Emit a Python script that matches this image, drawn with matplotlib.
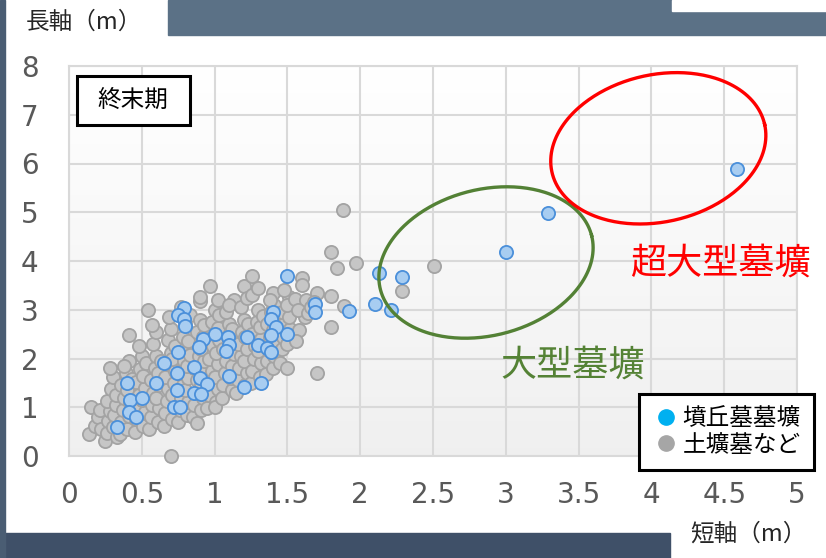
import numpy as np
import matplotlib
matplotlib.use('Agg')
from matplotlib import pyplot as plt
from matplotlib.patches import Rectangle
from matplotlib.lines import Line2D

plt.rcParams['font.family'] = ['Noto Sans CJK JP', 'DejaVu Sans']

# 墳丘墓墓壙 (短軸, 長軸)
blue_x = [4.59, 3.29, 3.00, 2.13, 2.29, 2.10, 2.21, 1.92, 1.69, 1.69, 1.50, 1.50,
          0.79, 0.75, 0.79, 0.80, 1.40, 1.39, 1.42, 1.39, 0.92, 1.00, 0.89, 1.09,
          1.10, 1.08, 1.22, 1.30, 1.36, 1.39, 0.75, 0.65, 0.86, 0.74, 0.90, 0.95,
          1.10, 0.40, 0.60, 0.74, 0.86, 0.91, 1.20, 1.32, 0.42, 0.50, 0.41, 0.46,
          0.72, 0.76, 0.33]
blue_y = [5.89, 4.98, 4.18, 3.76, 3.67, 3.11, 3.00, 2.97, 3.12, 2.95, 3.69, 2.50,
          3.03, 2.89, 2.81, 2.67, 2.96, 2.81, 2.65, 2.48, 2.41, 2.50, 2.24, 2.45,
          2.28, 2.16, 2.45, 2.28, 2.21, 2.14, 2.14, 1.90, 1.82, 1.70, 1.61, 1.48,
          1.64, 1.50, 1.50, 1.35, 1.29, 1.27, 1.42, 1.49, 1.15, 1.20, 0.91, 0.79,
          1.00, 1.00, 0.60]

# 土壙墓など
gray_x = [0.14, 0.15, 0.18, 0.20, 0.22, 0.21,
          0.25, 0.26, 0.27, 0.28, 0.26, 0.29, 0.30, 0.31, 0.30, 0.32, 0.28, 0.33, 0.32,
          0.35, 0.36, 0.37, 0.38, 0.36, 0.39, 0.40, 0.41, 0.42, 0.40, 0.41, 0.41, 0.43, 0.38,
          0.45, 0.46, 0.47, 0.48, 0.46, 0.49, 0.50, 0.51, 0.52, 0.50, 0.52, 0.51, 0.48, 0.53,
          0.55, 0.56, 0.57, 0.58, 0.56, 0.59, 0.60, 0.58, 0.54, 0.61, 0.62, 0.60, 0.62, 0.61, 0.63, 0.60, 0.57,
          0.65, 0.66, 0.67, 0.68, 0.66, 0.69, 0.70, 0.68, 0.70, 0.70, 0.71, 0.72, 0.71, 0.72, 0.73, 0.71, 0.73, 0.69,
          0.75, 0.76, 0.77, 0.78, 0.76, 0.79, 0.80, 0.78, 0.80, 0.81, 0.82, 0.80, 0.82, 0.81, 0.83, 0.82, 0.77, 0.83,
          0.85, 0.86, 0.87, 0.88, 0.86, 0.89, 0.90, 0.88, 0.90, 0.90, 0.90, 0.91, 0.92, 0.91, 0.92, 0.93, 0.91, 0.92, 0.93, 0.88,
          0.95, 0.96, 0.97, 0.98, 0.96, 0.99, 1.00, 0.98, 1.00, 0.97, 1.01, 1.02, 1.00, 1.02, 1.01, 1.03, 1.02, 1.03, 1.00, 1.02,
          1.05, 1.06, 1.07, 1.08, 1.06, 1.09, 1.10, 1.08, 1.12, 1.11, 1.12, 1.13, 1.11, 1.12, 1.13, 1.10,
          1.15, 1.16, 1.17, 1.18, 1.16, 1.19, 1.20, 1.18, 1.20, 1.21, 1.22, 1.20, 1.22, 1.21, 1.23, 1.22,
          1.25, 1.26, 1.27, 1.28, 1.26, 1.29, 1.30, 1.26, 1.26, 1.31, 1.32, 1.30, 1.32, 1.31, 1.33, 1.30,
          1.35, 1.36, 1.37, 1.38, 1.36, 1.39, 1.40, 1.40, 1.41, 1.42, 1.40, 1.42, 1.41, 1.38,
          1.45, 1.46, 1.47, 1.48, 1.46, 1.50, 1.51, 1.50, 1.52, 1.51, 1.50, 1.48,
          1.55, 1.58, 1.56, 1.60, 1.60, 1.63, 1.62, 1.57,
          1.64, 1.66, 1.70, 1.70, 1.68,
          1.80, 1.84, 1.97, 1.88, 1.80, 1.89, 1.80, 2.29, 2.51]
gray_y = [0.46, 1.00, 0.62, 0.80, 0.55, 0.95,
          0.30, 0.48, 0.72, 0.92, 1.12, 1.38, 0.60, 0.85, 1.62, 1.05, 1.80, 0.40, 1.25,
          0.45, 0.70, 0.95, 1.20, 1.45, 1.70, 0.55, 0.82, 1.08, 1.35, 1.95, 2.48, 1.58, 1.85,
          0.50, 0.75, 1.00, 1.25, 1.52, 1.78, 2.05, 0.62, 0.90, 1.15, 1.40, 1.65, 2.25, 1.90,
          0.55, 0.80, 1.05, 1.30, 1.55, 1.80, 2.05, 2.30, 3.00, 0.70, 0.98, 1.20, 1.45, 1.70, 1.95, 2.55, 2.68,
          0.62, 0.88, 1.12, 1.38, 1.62, 1.88, 2.12, 2.38, 2.60, 0.00, 0.75, 1.00, 1.25, 1.50, 1.75, 2.00, 2.25, 2.85,
          0.70, 0.95, 1.20, 1.45, 1.70, 1.95, 2.20, 2.45, 2.70, 0.85, 1.10, 1.35, 1.60, 1.85, 2.08, 2.35, 3.05, 2.90,
          0.80, 1.05, 1.30, 1.55, 1.80, 2.05, 2.30, 2.55, 2.80, 3.17, 3.27, 0.95, 1.20, 1.45, 1.70, 1.95, 2.20, 2.45, 2.68, 0.68,
          0.98, 1.25, 1.50, 1.75, 2.00, 2.25, 2.50, 2.75, 3.00, 3.49, 1.10, 1.38, 1.62, 1.88, 2.12, 2.38, 2.62, 2.90, 1.00, 3.20,
          1.20, 1.45, 1.70, 1.95, 2.20, 2.45, 2.70, 2.95, 1.35, 1.60, 1.85, 2.10, 2.35, 2.60, 3.21, 3.10,
          1.30, 1.55, 1.80, 2.05, 2.30, 2.55, 2.80, 3.05, 3.49, 1.45, 1.70, 1.95, 2.20, 2.45, 2.70, 3.25,
          1.50, 1.75, 2.00, 2.25, 2.50, 2.75, 3.00, 3.30, 3.69, 1.62, 1.90, 2.15, 2.40, 2.65, 2.88, 3.45,
          1.68, 1.95, 2.20, 2.45, 2.70, 2.95, 3.34, 1.80, 2.05, 2.32, 2.58, 2.82, 3.10, 3.20,
          1.90, 2.20, 2.45, 2.70, 2.95, 1.81, 3.27, 2.30, 2.60, 2.85, 3.10, 3.40,
          3.23, 2.58, 2.35, 3.66, 3.51, 3.20, 2.85, 3.00,
          2.93, 3.05, 3.34, 1.70, 3.15,
          4.19, 3.86, 3.96, 5.05, 3.29, 3.08, 2.65, 3.39, 3.90]

x_ticks = [0, 0.5, 1, 1.5, 2, 2.5, 3, 3.5, 4, 4.5, 5]
x_ticklabels = ['0', '0.5', '1', '1.5', '2', '2.5', '3', '3.5', '4', '4.5', '5']
y_ticks = [0, 1, 2, 3, 4, 5, 6, 7, 8]

W, H = 826, 558
fig = plt.figure(figsize=(W / 100, H / 100), dpi=100)
fig.patch.set_facecolor('white')

# slide frame around the chart
def px_rect(x0, y0, x1, y1, color):
    fig.patches.append(Rectangle((x0 / W, 1 - y1 / H), (x1 - x0) / W, (y1 - y0) / H,
                                 transform=fig.transFigure, color=color, zorder=0))

px_rect(168, 0, 826, 35, '#5b7186')
px_rect(672, 0, 826, 11, 'white')
px_rect(0, 533, 670, 558, '#3f5068')
px_rect(0, 0, 5, 558, '#4a5d73')

ax = fig.add_axes([69 / W, 1 - 456 / H, 728 / W, 390 / H])

# faint vertical gradient in the plot area (white at top, light grey at bottom)
shade = np.linspace(1.0, 0.94, 100)
grad = np.dstack([shade, shade, shade]).reshape(100, 1, 3)
ax.imshow(grad, extent=[0, 5, 0, 8], aspect='auto', zorder=0, origin='upper')
ax.set_xlim(0, 5)
ax.set_ylim(0, 8)

ax.set_xticks(x_ticks)
ax.set_xticklabels(x_ticklabels)
ax.set_yticks(y_ticks)
ax.grid(True, color='#d9d9d9', linewidth=1.5, zorder=1)
ax.set_axisbelow(True)
for s in ax.spines.values():
    s.set_color('#d9d9d9')
    s.set_linewidth(1.5)
ax.tick_params(length=0, labelsize=20, labelcolor='#595959')
ax.tick_params(axis='x', pad=18)
ax.tick_params(axis='y', pad=22)
for lab in ax.get_xticklabels() + ax.get_yticklabels():
    lab.set_family('DejaVu Sans')

ax.scatter(gray_x, gray_y, s=90, facecolor='#c6c6c6', edgecolor='#a3a3a3', linewidth=1.3,
           zorder=3, clip_on=False)
ax.scatter(blue_x, blue_y, s=90, facecolor='#a8cdf1', edgecolor='#4a8fda', linewidth=1.3,
           zorder=4, clip_on=False)

# tilted ellipses drawn in pixel space
def px_ellipse(cx, cy, a, b, ang, color):
    t = np.linspace(0, 2 * np.pi, 300)
    r = np.deg2rad(ang)
    ex = cx + a * np.cos(t) * np.cos(r) - b * np.sin(t) * np.sin(r)
    ey = cy + a * np.cos(t) * np.sin(r) + b * np.sin(t) * np.cos(r)
    disp = np.column_stack([ex, H - ey])
    pts = ax.transData.inverted().transform(disp)
    ax.plot(pts[:, 0], pts[:, 1], color=color, linewidth=2.4, zorder=5, clip_on=False)

px_ellipse(486, 262.5, 109, 73, -14.4, '#538135')
px_ellipse(658.3, 148.3, 109, 73.6, -12.7, '#ff0000')

fig.text(630 / W, 1 - 264 / H, '超大型墓壙', color='#ff0000', fontsize=26, va='center', ha='left')
fig.text(500 / W, 1 - 366 / H, '大型墓壙', color='#548235', fontsize=26, va='center', ha='left')

fig.text(26 / W, 1 - 22 / H, '長軸（m）', fontsize=17, va='center', ha='left', color='#262626')
fig.text(690 / W, 1 - 534 / H, '短軸（m）', fontsize=17, va='center', ha='left', color='#262626')

# period box
fig.patches.append(Rectangle((77 / W, 1 - 125 / H), 113 / W, 49 / H, transform=fig.transFigure,
                             facecolor='white', edgecolor='black', linewidth=2.2, zorder=6))
fig.text(133 / W, 1 - 100 / H, '終末期', fontsize=17, va='center', ha='center', zorder=7)

# legend box
handles = [Line2D([], [], marker='o', linestyle='', markersize=11, color='#00b0f0'),
           Line2D([], [], marker='o', linestyle='', markersize=11, color='#a6a6a6')]
leg = fig.legend(handles, ['墳丘墓墓壙', '土壙墓など'], loc='upper left',
                 bbox_to_anchor=(639 / W, 1 - 394 / H), fontsize=17, frameon=True,
                 handletextpad=0.1, handlelength=1.2, borderpad=0.55, labelspacing=0.15,
                 fancybox=False, borderaxespad=0, framealpha=1)
leg.get_frame().set_edgecolor('black')
leg.get_frame().set_linewidth(2.2)

fig.savefig('out.png', dpi=100)
